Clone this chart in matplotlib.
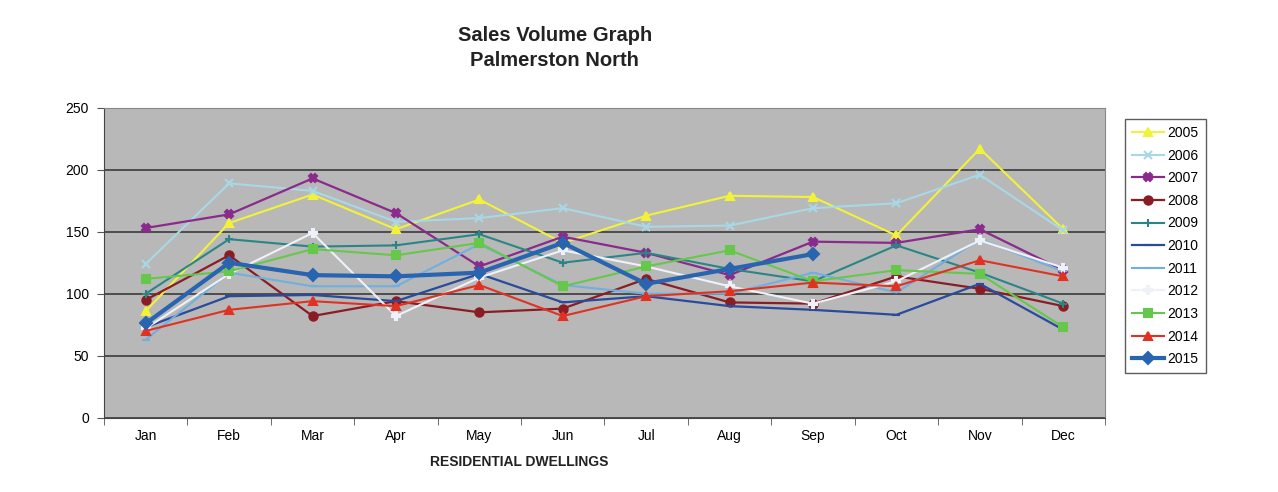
import matplotlib.pyplot as plt
import numpy as np

plt.rcParams['font.family'] = ['Liberation Sans', 'DejaVu Sans']

months = ['Jan', 'Feb', 'Mar', 'Apr', 'May', 'Jun', 'Jul', 'Aug', 'Sep', 'Oct', 'Nov', 'Dec']

y2005 = [86, 157, 180, 152, 176, 141, 163, 179, 178, 147, 217, 152]
y2006 = [124, 189, 183, 158, 161, 169, 154, 155, 169, 173, 196, 151]
y2007 = [153, 164, 193, 165, 122, 146, 133, 115, 142, 141, 152, 119]
y2008 = [95, 131, 82, 94, 85, 88, 112, 93, 92, 114, 104, 90]
y2009 = [100, 144, 138, 139, 148, 125, 133, 120, 110, 139, 117, 92]
y2010 = [73, 98, 99, 94, 116, 93, 98, 90, 87, 83, 108, 71]
y2011 = [63, 117, 106, 106, 140, 107, 100, 100, 117, 101, 144, 118]
y2012 = [72, 116, 149, 82, 113, 135, 122, 106, 92, 110, 143, 121]
y2013 = [112, 118, 136, 131, 141, 106, 122, 135, 110, 119, 116, 73]
y2014 = [70, 87, 94, 90, 107, 82, 98, 102, 109, 106, 127, 114]
y2015 = [76, 125, 115, 114, 117, 141, 108, 120, 132]

series = [
    ('2005', y2005, '#f2f23a', '^', 1.5),
    ('2006', y2006, '#a8d8e6', 'x', 1.5),
    ('2007', y2007, '#8a2a8c', 'X', 1.6),
    ('2008', y2008, '#8b1c24', 'o', 1.6),
    ('2009', y2009, '#2a8686', '+', 1.5),
    ('2010', y2010, '#2a4a9c', '_', 1.6),
    ('2011', y2011, '#70b0e0', '_', 1.5),
    ('2012', y2012, '#eef2f8', 'P', 1.5),
    ('2013', y2013, '#66c84a', 's', 1.5),
    ('2014', y2014, '#e03222', '^', 1.5),
    ('2015', y2015, '#2864b0', 'D', 3.0),
]

fig = plt.figure(figsize=(12.78, 4.92), dpi=100)
ax = fig.add_axes([0.0814, 0.151, 0.7832, 0.630])
ax.set_facecolor('#b8b8b8')

for name, vals, color, marker, lw in series:
    x = np.arange(len(vals))
    ax.plot(x, vals, color=color, marker=marker, lw=lw, ms=6, mew=1.5,
            label=name)

ax.set_ylim(0, 250)
ax.set_yticks(range(0, 251, 50))
ax.set_xlim(-0.5, 11.5)
ax.set_xticks(range(12))
ax.set_xticklabels(months)
ax.set_xticks(np.arange(-0.5, 12, 1), minor=True)
ax.tick_params(axis='x', which='major', length=0, pad=8, labelsize=10)
ax.tick_params(axis='x', which='minor', length=5, color='#555555')
ax.tick_params(axis='y', length=5, color='#555555', labelsize=10, pad=6)
ax.yaxis.grid(True, color='#3a3a3a', lw=1.2)
ax.set_axisbelow(True)
for s in ['top', 'right']:
    ax.spines[s].set_color('#888888')
for s in ['left', 'bottom']:
    ax.spines[s].set_color('#444444')

fig.text(0.434, 0.928, 'Sales Volume Graph', ha='center', va='center',
         fontsize=14.5, fontweight='bold', color='#222222')
fig.text(0.434, 0.878, 'Palmerston North', ha='center', va='center',
         fontsize=14.5, fontweight='bold', color='#222222')
fig.text(0.406, 0.06, 'RESIDENTIAL DWELLINGS', ha='center', va='center',
         fontsize=10, fontweight='bold', color='#222222')

leg = fig.legend(loc='upper left', bbox_to_anchor=(0.880, 0.758),
                 borderaxespad=0, fontsize=10, frameon=True, fancybox=False,
                 handlelength=2.3, labelspacing=0.62, borderpad=0.5,
                 handletextpad=0.3)
leg.get_frame().set_edgecolor('#333333')
leg.get_frame().set_linewidth(1.0)

fig.savefig('out.png', dpi=100)
